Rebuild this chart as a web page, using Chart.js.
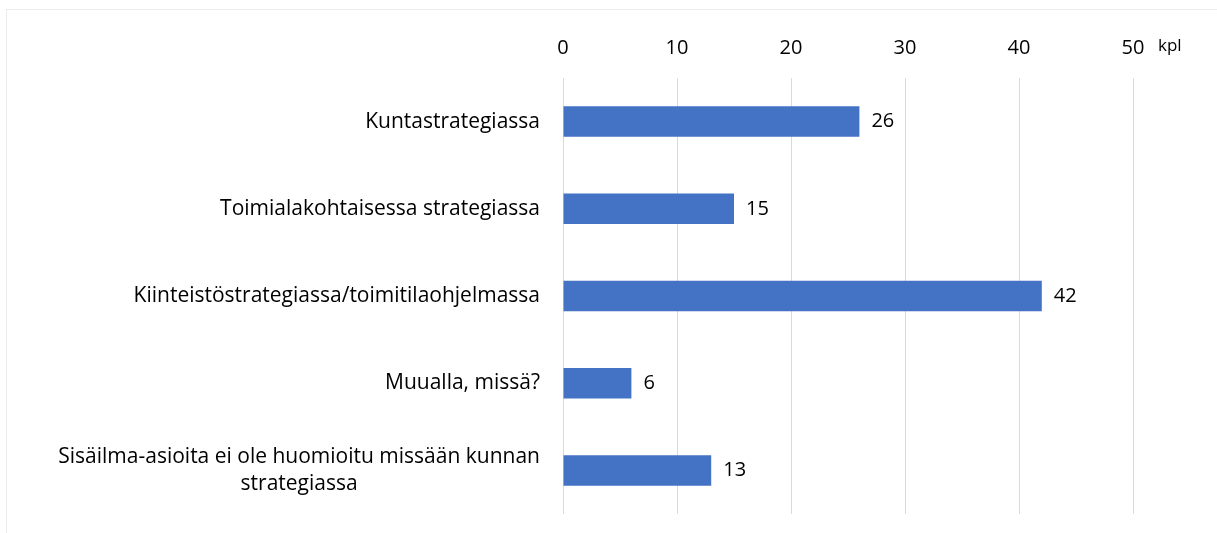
<!DOCTYPE html>
<html>
<head>
<meta charset="utf-8">
<script src="https://cdn.jsdelivr.net/npm/chart.js@4"></script>
<style>
html,body{margin:0;padding:0;background:#fff;overflow:hidden;}
#wrap{position:relative;width:1217px;height:533px;}
#frame{position:absolute;left:6px;top:9px;width:1300px;height:600px;border-top:1px solid #ececec;border-left:1px solid #ececec;pointer-events:none;}
canvas{position:absolute;left:0;top:0;}
</style>
</head>
<body>
<div id="wrap"><canvas id="c" width="1217" height="533"></canvas><div id="frame"></div></div>
<script>
const categories = [
  ["Kuntastrategiassa"],
  ["Toimialakohtaisessa strategiassa"],
  ["Kiinteistöstrategiassa/toimitilaohjelmassa"],
  ["Muualla, missä?"],
  ["Sisäilma-asioita ei ole huomioitu missään kunnan", "strategiassa"]
];
const values = [26, 15, 42, 6, 13];
const tickValues = [0, 10, 20, 30, 40, 50];
const unitLabel = "kpl";

const FONT = "'Open Sans', sans-serif";
const FS = 20;
const CAT_FS = 21;

const labelsPlugin = {
  id: 'customLabels',
  afterDatasetsDraw(chart) {
    const ctx = chart.ctx;
    const ys = chart.scales.y;
    const xs = chart.scales.x;
    ctx.save();
    ctx.fillStyle = '#000';
    ctx.font = CAT_FS + 'px ' + FONT;
    ctx.textBaseline = 'middle';
    const rightEdge = chart.chartArea.left - 23;
    const lh = 27;
    categories.forEach((lines, i) => {
      const yc = ys.getPixelForValue(i);
      if (lines.length === 1) {
        ctx.textAlign = 'right';
        ctx.fillText(lines[0], rightEdge, yc);
      } else {
        const maxW = Math.max(...lines.map(l => ctx.measureText(l).width));
        const cx = rightEdge - maxW / 2;
        ctx.textAlign = 'center';
        const y0 = yc - (lines.length - 1) * lh / 2;
        lines.forEach((l, k) => ctx.fillText(l, cx, y0 + k * lh));
      }
    });
    const meta = chart.getDatasetMeta(0);
    ctx.font = FS + 'px ' + FONT;
    ctx.textAlign = 'left';
    meta.data.forEach((bar, i) => {
      ctx.fillText(String(values[i]), bar.x + 12, bar.y);
    });
    ctx.font = '17px ' + FONT;
    ctx.textAlign = 'left';
    ctx.fillText(unitLabel, xs.getPixelForValue(tickValues[tickValues.length - 1]) + 25, 46);
    ctx.restore();
  }
};

new Chart(document.getElementById('c'), {
  type: 'bar',
  data: {
    labels: categories,
    datasets: [{
      data: values,
      backgroundColor: '#4472C4',
      borderWidth: 0,
      barPercentage: 0.35,
      categoryPercentage: 1.0
    }]
  },
  options: {
    indexAxis: 'y',
    responsive: false,
    animation: false,
    devicePixelRatio: 1,
    layout: { padding: { left: 563, right: 84, top: 0, bottom: 19 } },
    plugins: { legend: { display: false }, tooltip: { enabled: false } },
    scales: {
      x: {
        position: 'top',
        min: 0, max: 50,
        afterBuildTicks(scale) { scale.ticks = tickValues.map(v => ({ value: v })); },
        afterFit(scale) { scale.height = 78; },
        grid: { color: '#d9d9d9', lineWidth: 1, drawTicks: false },
        border: { display: false },
        ticks: { color: '#000', font: { family: FONT, size: FS }, padding: 18, maxRotation: 0 }
      },
      y: {
        display: false,
        grid: { display: false }
      }
    }
  },
  plugins: [labelsPlugin]
});
</script>
</body>
</html>
